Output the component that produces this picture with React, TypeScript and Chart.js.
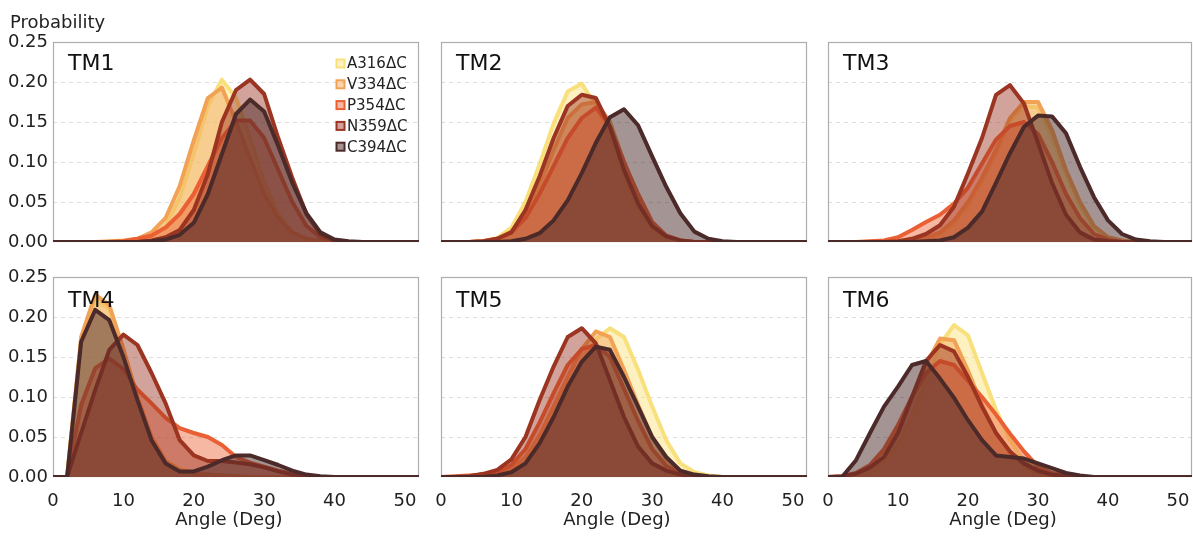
import { useEffect, useRef } from 'react';
import { Chart, registerables } from 'chart.js';

Chart.register(...registerables);
Chart.defaults.font.family = "'DejaVu Sans', sans-serif";

if (typeof document !== 'undefined') {
  document.body.style.margin = '0';
}

// ---------- data ----------
const ANGLES = [0, 2, 4, 6, 8, 10, 12, 14, 16, 18, 20, 22, 24, 26, 28, 30, 32, 34, 36, 38, 40, 42, 44, 46, 48, 50, 52];
const X_TICKS = [0, 10, 20, 30, 40, 50];
const Y_TICKS = [0, 0.05, 0.1, 0.15, 0.2, 0.25];
const SERIES_NAMES = ['A316ΔC', 'V334ΔC', 'P354ΔC', 'N359ΔC', 'C394ΔC'];
const PANEL_TITLES = ['TM1', 'TM2', 'TM3', 'TM4', 'TM5', 'TM6'];
const X_TITLE = 'Angle (Deg)';
const Y_TITLE = 'Probability';

const TM1_A316 = [0, 0, 0, 0, 0, 0.001, 0.003, 0.008, 0.02, 0.055, 0.11, 0.17, 0.203, 0.18, 0.13, 0.075, 0.035, 0.012, 0.004, 0.001, 0, 0, 0, 0, 0, 0, 0];
const TM1_V334 = [0, 0, 0, 0, 0.001, 0.002, 0.004, 0.012, 0.03, 0.07, 0.127, 0.18, 0.193, 0.15, 0.105, 0.06, 0.03, 0.012, 0.004, 0.001, 0, 0, 0, 0, 0, 0, 0];
const TM1_P354 = [0, 0, 0, 0, 0, 0.001, 0.004, 0.008, 0.018, 0.035, 0.06, 0.095, 0.13, 0.152, 0.152, 0.13, 0.09, 0.05, 0.02, 0.006, 0.002, 0, 0, 0, 0, 0, 0];
const TM1_N359 = [0, 0, 0, 0, 0, 0, 0, 0.002, 0.006, 0.015, 0.04, 0.085, 0.15, 0.19, 0.203, 0.185, 0.13, 0.08, 0.035, 0.01, 0.002, 0, 0, 0, 0, 0, 0];
const TM1_C394 = [0, 0, 0, 0, 0, 0, 0, 0.001, 0.003, 0.009, 0.024, 0.06, 0.11, 0.16, 0.178, 0.163, 0.12, 0.074, 0.036, 0.012, 0.003, 0.001, 0, 0, 0, 0, 0];

const TM2_A316 = [0, 0, 0, 0.001, 0.005, 0.018, 0.05, 0.097, 0.148, 0.188, 0.198, 0.17, 0.13, 0.08, 0.04, 0.015, 0.005, 0.001, 0, 0, 0, 0, 0, 0, 0, 0, 0];
const TM2_V334 = [0, 0, 0, 0.001, 0.004, 0.013, 0.035, 0.07, 0.115, 0.155, 0.172, 0.175, 0.15, 0.1, 0.055, 0.022, 0.008, 0.002, 0, 0, 0, 0, 0, 0, 0, 0, 0];
const TM2_P354 = [0, 0, 0, 0.001, 0.004, 0.012, 0.03, 0.06, 0.095, 0.13, 0.155, 0.168, 0.145, 0.1, 0.06, 0.025, 0.008, 0.002, 0, 0, 0, 0, 0, 0, 0, 0, 0];
const TM2_N359 = [0, 0, 0, 0.001, 0.004, 0.012, 0.04, 0.082, 0.13, 0.17, 0.184, 0.18, 0.144, 0.09, 0.048, 0.02, 0.007, 0.002, 0, 0, 0, 0, 0, 0, 0, 0, 0];
const TM2_C394 = [0, 0, 0, 0, 0, 0.001, 0.004, 0.011, 0.027, 0.052, 0.086, 0.124, 0.156, 0.166, 0.146, 0.107, 0.069, 0.036, 0.013, 0.004, 0.001, 0, 0, 0, 0, 0, 0];

const TM3_A316 = [0, 0, 0, 0, 0, 0, 0.002, 0.004, 0.01, 0.022, 0.045, 0.075, 0.11, 0.15, 0.17, 0.168, 0.13, 0.085, 0.045, 0.018, 0.005, 0.001, 0, 0, 0, 0, 0];
const TM3_V334 = [0, 0, 0, 0, 0, 0, 0.002, 0.005, 0.012, 0.027, 0.05, 0.08, 0.115, 0.155, 0.175, 0.175, 0.14, 0.09, 0.05, 0.02, 0.006, 0.002, 0, 0, 0, 0, 0];
const TM3_P354 = [0, 0, 0, 0.001, 0.002, 0.006, 0.015, 0.025, 0.034, 0.048, 0.068, 0.098, 0.128, 0.145, 0.15, 0.135, 0.1, 0.06, 0.03, 0.01, 0.003, 0, 0, 0, 0, 0, 0];
const TM3_N359 = [0, 0, 0, 0, 0, 0.001, 0.004, 0.01, 0.021, 0.044, 0.086, 0.13, 0.184, 0.196, 0.173, 0.124, 0.074, 0.034, 0.012, 0.003, 0.001, 0, 0, 0, 0, 0, 0];
const TM3_C394 = [0, 0, 0, 0, 0, 0, 0, 0.001, 0.002, 0.006, 0.018, 0.038, 0.074, 0.111, 0.144, 0.158, 0.157, 0.136, 0.094, 0.056, 0.027, 0.01, 0.003, 0.001, 0, 0, 0];

const TM4_A316 = [0, 0, 0.17, 0.222, 0.21, 0.155, 0.095, 0.05, 0.02, 0.01, 0.005, 0.003, 0.002, 0.001, 0, 0, 0, 0, 0, 0, 0, 0, 0, 0, 0, 0, 0];
const TM4_V334 = [0, 0, 0.175, 0.228, 0.215, 0.16, 0.1, 0.05, 0.02, 0.008, 0.004, 0.003, 0.002, 0.001, 0, 0, 0, 0, 0, 0, 0, 0, 0, 0, 0, 0, 0];
const TM4_P354 = [0, 0, 0.09, 0.136, 0.148, 0.135, 0.109, 0.092, 0.074, 0.061, 0.055, 0.05, 0.04, 0.025, 0.018, 0.013, 0.008, 0.004, 0.001, 0, 0, 0, 0, 0, 0, 0, 0];
const TM4_N359 = [0, 0, 0.055, 0.109, 0.159, 0.178, 0.165, 0.13, 0.092, 0.046, 0.027, 0.02, 0.02, 0.018, 0.016, 0.012, 0.007, 0.003, 0.001, 0, 0, 0, 0, 0, 0, 0, 0];
const TM4_C394 = [0, 0, 0.169, 0.209, 0.196, 0.15, 0.096, 0.046, 0.017, 0.007, 0.007, 0.013, 0.021, 0.027, 0.027, 0.021, 0.015, 0.008, 0.003, 0.001, 0, 0, 0, 0, 0, 0, 0];

const TM5_A316 = [0, 0, 0.001, 0.001, 0.002, 0.006, 0.018, 0.04, 0.075, 0.11, 0.145, 0.172, 0.186, 0.175, 0.134, 0.088, 0.046, 0.017, 0.006, 0.002, 0, 0, 0, 0, 0, 0, 0];
const TM5_V334 = [0, 0, 0.001, 0.002, 0.004, 0.01, 0.025, 0.052, 0.088, 0.125, 0.16, 0.182, 0.175, 0.134, 0.09, 0.05, 0.022, 0.008, 0.002, 0, 0, 0, 0, 0, 0, 0, 0];
const TM5_P354 = [0, 0.001, 0.002, 0.003, 0.006, 0.015, 0.035, 0.068, 0.105, 0.14, 0.16, 0.165, 0.15, 0.11, 0.07, 0.035, 0.014, 0.005, 0.001, 0, 0, 0, 0, 0, 0, 0, 0];
const TM5_N359 = [0, 0, 0.001, 0.004, 0.009, 0.022, 0.05, 0.096, 0.138, 0.175, 0.186, 0.167, 0.121, 0.075, 0.038, 0.017, 0.008, 0.003, 0.001, 0, 0, 0, 0, 0, 0, 0, 0];
const TM5_C394 = [0, 0, 0, 0, 0.002, 0.006, 0.017, 0.042, 0.075, 0.113, 0.144, 0.163, 0.159, 0.125, 0.088, 0.05, 0.025, 0.008, 0.003, 0.001, 0, 0, 0, 0, 0, 0, 0];

const TM6_A316 = [0, 0, 0.002, 0.007, 0.018, 0.04, 0.075, 0.12, 0.165, 0.19, 0.177, 0.13, 0.084, 0.046, 0.02, 0.008, 0.003, 0.001, 0, 0, 0, 0, 0, 0, 0, 0, 0];
const TM6_V334 = [0, 0, 0.004, 0.012, 0.03, 0.06, 0.1, 0.14, 0.173, 0.171, 0.133, 0.09, 0.055, 0.03, 0.014, 0.005, 0.001, 0, 0, 0, 0, 0, 0, 0, 0, 0, 0];
const TM6_P354 = [0, 0.001, 0.005, 0.015, 0.035, 0.065, 0.1, 0.13, 0.145, 0.14, 0.12, 0.1, 0.078, 0.054, 0.032, 0.013, 0.005, 0.002, 0, 0, 0, 0, 0, 0, 0, 0, 0];
const TM6_N359 = [0, 0.001, 0.004, 0.012, 0.025, 0.055, 0.1, 0.145, 0.165, 0.157, 0.125, 0.088, 0.055, 0.032, 0.017, 0.008, 0.003, 0.001, 0, 0, 0, 0, 0, 0, 0, 0, 0];
const TM6_C394 = [0, 0, 0.021, 0.055, 0.088, 0.113, 0.14, 0.145, 0.123, 0.099, 0.071, 0.046, 0.027, 0.025, 0.023, 0.017, 0.011, 0.005, 0.002, 0, 0, 0, 0, 0, 0, 0, 0];

const PANEL_SERIES = [
  [TM1_A316, TM1_V334, TM1_P354, TM1_N359, TM1_C394],
  [TM2_A316, TM2_V334, TM2_P354, TM2_N359, TM2_C394],
  [TM3_A316, TM3_V334, TM3_P354, TM3_N359, TM3_C394],
  [TM4_A316, TM4_V334, TM4_P354, TM4_N359, TM4_C394],
  [TM5_A316, TM5_V334, TM5_P354, TM5_N359, TM5_C394],
  [TM6_A316, TM6_V334, TM6_P354, TM6_N359, TM6_C394],
];

// ---------- styles ----------
const LINE_COLORS = ['#F8E07C', '#F2A255', '#EA5F33', '#9B3421', '#4B2A29'];
const FILL_COLORS = [
  'rgba(250,225,120,0.45)',
  'rgba(242,162,85,0.45)',
  'rgba(234,95,51,0.45)',
  'rgba(155,52,33,0.45)',
  'rgba(75,42,41,0.5)',
];

const COL_LEFT = [0, 421, 808];
const COL_WIDTH = [420, 387, 385];
const COL_AXIS = [53, 20, 20];
const ROW_TOP = [0, 250];
const ROW_HEIGHT = [262, 290];
const ROW_PAD_TOP = [42, 27];
const ROW_XAXIS = [20, 63];

const decorPlugin = {
  id: 'decor',
  beforeDatasetsDraw(chart: any) {
    const { ctx, chartArea: a } = chart;
    ctx.save();
    ctx.strokeStyle = '#ADADAD';
    ctx.lineWidth = 1.2;
    ctx.strokeRect(a.left + 0.5, a.top + 0.5, a.right - a.left - 1, a.bottom - a.top - 1);
    ctx.restore();
  },
  afterDatasetsDraw(chart: any, _args: any, opts: any) {
    const { ctx, chartArea: a } = chart;
    ctx.save();
    ctx.fillStyle = '#111';
    ctx.font = "22px 'DejaVu Sans', sans-serif";
    ctx.textAlign = 'left';
    ctx.textBaseline = 'alphabetic';
    ctx.fillText(opts.title, a.left + 15, a.top + opts.titleDy);
    if (opts.legend) {
      ctx.font = "15px 'DejaVu Sans', sans-serif";
      ctx.textBaseline = 'middle';
      SERIES_NAMES.forEach((name, i) => {
        const cy = 63.5 + i * 20.8;
        const bx = 336.5;
        ctx.fillStyle = FILL_COLORS[i];
        ctx.fillRect(bx, cy - 4, 8, 8);
        ctx.strokeStyle = LINE_COLORS[i];
        ctx.lineWidth = 2;
        ctx.strokeRect(bx, cy - 4, 8, 8);
        ctx.fillStyle = '#222';
        ctx.fillText(name, 347, cy + 1);
      });
    }
    ctx.restore();
  },
  afterDraw(chart: any, _args: any, opts: any) {
    const { ctx } = chart;
    ctx.save();
    ctx.fillStyle = '#222';
    ctx.font = "18px 'DejaVu Sans', sans-serif";
    if (opts.yTitle) {
      ctx.textAlign = 'left';
      ctx.textBaseline = 'alphabetic';
      ctx.fillText(Y_TITLE, 10, 28);
    }
    if (opts.xTitle) {
      ctx.textAlign = 'center';
      ctx.textBaseline = 'middle';
      ctx.fillText(X_TITLE, chart.scales.x.getPixelForValue(25), opts.xTitleY);
    }
    ctx.restore();
  },
};

function Panel({ index }: { index: number }) {
  const ref = useRef<HTMLCanvasElement>(null);
  const row = Math.floor(index / 3);
  const col = index % 3;
  const w = COL_WIDTH[col];
  const h = ROW_HEIGHT[row];

  useEffect(() => {
    const series = PANEL_SERIES[index];
    const datasets = SERIES_NAMES.map((name, i) => ({
      label: name,
      data: ANGLES.map((a, j) => ({ x: a, y: series[i][j] })),
      borderColor: LINE_COLORS[i],
      backgroundColor: FILL_COLORS[i],
      borderWidth: 4,
      borderJoinStyle: 'round' as const,
      fill: 'origin',
      pointRadius: 0,
      pointHoverRadius: 0,
      tension: 0,
      order: SERIES_NAMES.length - i,
    }));
    const chart = new Chart(ref.current!, {
      type: 'line',
      data: { datasets },
      plugins: [decorPlugin],
      options: {
        responsive: false,
        animation: false,
        devicePixelRatio: 1,
        layout: { padding: { top: ROW_PAD_TOP[row], right: 1, left: 0, bottom: 0 } },
        plugins: {
          legend: { display: false },
          tooltip: { enabled: false },
          decor: {
            title: PANEL_TITLES[index],
            titleDy: row === 0 ? 28 : 30,
            legend: index === 0,
            yTitle: index === 0,
            xTitle: row === 1,
            xTitleY: 520 - ROW_TOP[row],
          },
        } as any,
        scales: {
          x: {
            type: 'linear',
            min: 0,
            max: 52,
            afterBuildTicks: (s: any) => {
              s.ticks = X_TICKS.map((v) => ({ value: v }));
            },
            afterFit: (s: any) => {
              s.height = ROW_XAXIS[row];
              s.paddingLeft = 0;
              s.paddingRight = 0;
            },
            ticks: {
              display: row === 1,
              padding: 6,
              maxRotation: 0,
              autoSkip: false,
              color: '#222',
              font: { size: 18 },
            },
            grid: { display: false },
            border: { display: false },
          },
          y: {
            min: 0,
            max: 0.25,
            afterBuildTicks: (s: any) => {
              s.ticks = Y_TICKS.map((v) => ({ value: v }));
            },
            afterFit: (s: any) => {
              s.width = COL_AXIS[col];
              s.paddingTop = 0;
              s.paddingBottom = 0;
            },
            ticks: {
              display: col === 0,
              padding: 5,
              color: '#222',
              font: { size: 18 },
              callback: (v: any) => Number(v).toFixed(2),
            },
            grid: {
              drawTicks: false,
              lineWidth: 1,
              color: (ctx: any) =>
                ctx.tick && (ctx.tick.value === 0 || ctx.tick.value === 0.25) ? 'rgba(0,0,0,0)' : '#DDDDDD',
            },
            border: { display: false, dash: [4, 4] },
          },
        },
      } as any,
    });
    return () => chart.destroy();
  }, [index, row, col]);

  return (
    <canvas
      ref={ref}
      width={w}
      height={h}
      style={{ position: 'absolute', left: COL_LEFT[col], top: ROW_TOP[row], width: w, height: h }}
    />
  );
}

export default function App() {
  return (
    <div style={{ position: 'relative', width: 1193, height: 540, background: '#fff', overflow: 'hidden' }}>
      {PANEL_TITLES.map((_, i) => (
        <Panel key={i} index={i} />
      ))}
    </div>
  );
}
